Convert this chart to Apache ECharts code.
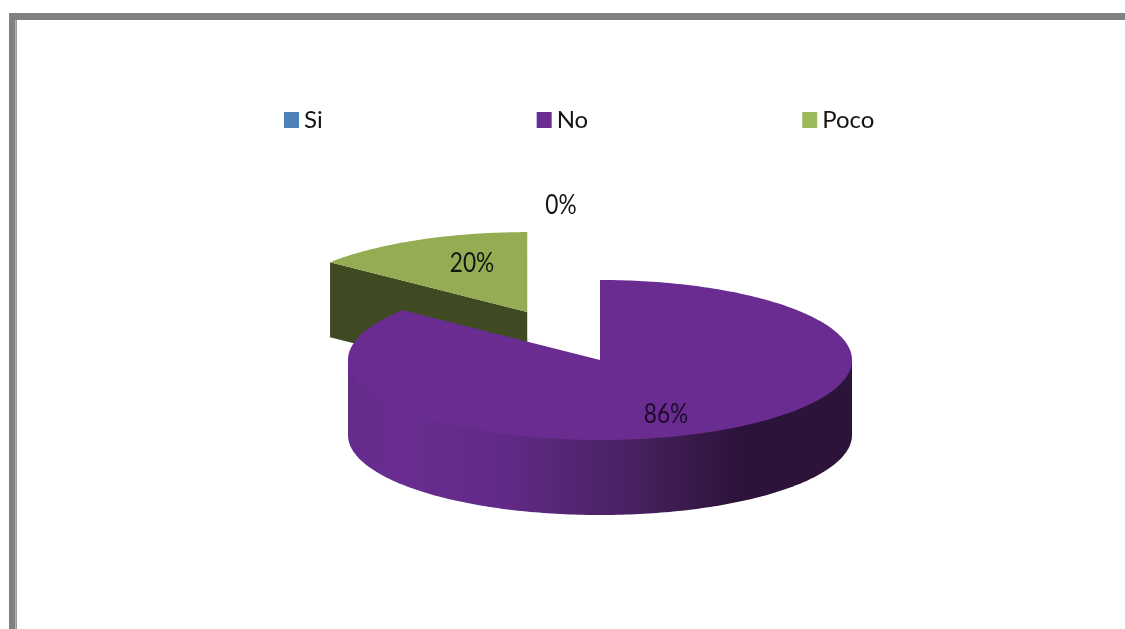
<!DOCTYPE html>
<html>
<head>
<meta charset="utf-8">
<style>html,body{margin:0;padding:0;background:#fff}#c{width:1125px;height:629px}</style>
<script src="https://cdn.jsdelivr.net/npm/echarts@6/dist/echarts.min.js"></script>
</head>
<body>
<div id="c"></div>
<script>
// ---- data ----
const categories = ['Si', 'No', 'Poco'];
const sliceShares = [0, 85.7, 14.3];          // slice sizes as drawn in the picture
const labelTexts = ['0%', '86%', '20%'];      // labels as printed in the picture

// ---- styling and layout ----
const legendColors = ['#4F81BD', '#6A2C91', '#9BBB59'];
const topColors = ['#4F81BD', '#6A2C91', '#94AD52'];
const wallColors = ['#2A4160', '#2B1339', '#3F4A22'];
const explode = [0, 0, 0.665];
const labelPos = [[561, 205], [666, 414], [472, 263]];
const FONT = 'Lato,"Open Sans",sans-serif';
const CX = 600, CY = 360, RX = 252, RY = 80, DEPTH = 75;

const chart = echarts.init(document.getElementById('c'), null, {renderer: 'canvas'});

function pt(cx, cy, deg, dy) {
  const a = deg * Math.PI / 180;
  return [cx + RX * Math.sin(a), cy - RY * Math.cos(a) + (dy || 0)];
}
function arc(cx, cy, a0, a1, dy) {
  const out = [], n = Math.max(1, Math.ceil(Math.abs(a1 - a0)));
  for (let i = 0; i <= n; i++) out.push(pt(cx, cy, a0 + (a1 - a0) * i / n, dy));
  return out;
}
const total = sliceShares.reduce((s, v) => s + v, 0);

function renderSlice(idx) {
  return function (params, api) {
    const share = api.value(0);
    let start = 0;
    for (let i = 0; i < idx; i++) start += sliceShares[i];
    const a0 = start / total * 360, a1 = a0 + share / total * 360;
    const mid = (a0 + a1) / 2 * Math.PI / 180, k = explode[idx];
    const cx = CX + k * RX * Math.sin(mid), cy = CY - k * RY * Math.cos(mid);
    const children = [];
    if (share > 0) {
      // radial face that turns toward the viewer
      const face = a => {
        const p = pt(cx, cy, a);
        children.push({type: 'polygon', silent: true,
          shape: {points: [[cx, cy], p, [p[0], p[1] + DEPTH], [cx, cy + DEPTH]]},
          style: {fill: wallColors[idx]}});
      };
      if (Math.sin(a0 * Math.PI / 180) < -1e-6) face(a0);
      if (Math.sin(a1 * Math.PI / 180) > 1e-6) face(a1);
      // front wall (90..270 degrees); runs under the top face so no seam shows
      const w0 = Math.max(a0, 90), w1 = Math.min(a1, 270);
      if (w1 > w0) {
        const pts = [pt(cx, cy, w0)].concat(arc(cx, cy, w0, w1, DEPTH), [pt(cx, cy, w1), [cx, cy]]);
        children.push({type: 'polygon', silent: true, shape: {points: pts},
          style: {fill: new echarts.graphic.LinearGradient(cx - RX, 0, cx + RX, 0, [
            {offset: 0, color: '#642B8B'},
            {offset: 0.10, color: topColors[idx]},
            {offset: 0.30, color: '#622A88'},
            {offset: 0.55, color: '#4A2263'},
            {offset: 0.78, color: wallColors[idx]},
            {offset: 1, color: wallColors[idx]}
          ], true)}});
      }
      // top face
      children.push({type: 'polygon', silent: true,
        shape: {points: [[cx, cy]].concat(arc(cx, cy, a0, a1, 0))},
        style: {fill: topColors[idx]}});
    }
    return {type: 'group', children};
  };
}

function renderLabel(params, api) {
  const i = api.value(0);
  return {type: 'text', silent: true, z2: 100,
    x: labelPos[i][0], y: labelPos[i][1], scaleX: 0.84,
    style: {text: labelTexts[i], x: 0, y: 0,
      align: 'center', verticalAlign: 'middle', fill: i === 1 ? '#1B0B28' : '#141414',
      font: '27px ' + FONT}};
}

const sliceOrder = [2, 1, 0];   // back slice first, so the big slice covers it
const series = sliceOrder.map(i => ({
  type: 'custom', name: categories[i], coordinateSystem: 'none', silent: true,
  z: 2 + (2 - i), clip: false,
  itemStyle: {color: legendColors[i]},
  renderItem: renderSlice(i), data: [[sliceShares[i]]]
}));
series.push({
  type: 'custom', name: 'labels', coordinateSystem: 'none', silent: true, z: 10,
  renderItem: renderLabel, data: categories.map((c, i) => [i])
});

chart.setOption({
  animation: false,
  backgroundColor: '#fff',
  legend: {
    left: 284, top: 108, icon: 'rect', itemWidth: 15, itemHeight: 16, itemGap: 214,
    selectedMode: false, padding: 0,
    textStyle: {fontFamily: FONT, fontSize: 24, color: '#141414', padding: 0},
    data: categories.map((c, i) => ({name: c, itemStyle: {color: legendColors[i]}}))
  },
  graphic: [
    {type: 'rect', silent: true, shape: {x: 9, y: 13, width: 1116, height: 7}, style: {fill: '#808080'}},
    {type: 'rect', silent: true, shape: {x: 9, y: 13, width: 8, height: 616}, style: {fill: '#808080'}},
    {type: 'rect', silent: true, shape: {x: 15, y: 20, width: 1.5, height: 609}, style: {fill: '#B4B4B4'}}
  ],
  series
});
</script>
</body>
</html>
